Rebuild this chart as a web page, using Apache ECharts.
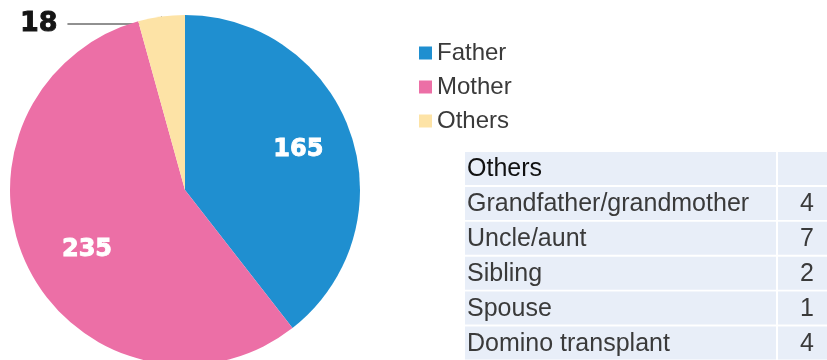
<!DOCTYPE html>
<html>
<head>
<meta charset="utf-8">
<script src="https://cdn.jsdelivr.net/npm/echarts@6/dist/echarts.min.js"></script>
<style>
  html, body { margin: 0; padding: 0; background: #fff; }
  #chart { width: 827px; height: 360px; }
</style>
</head>
<body>
<div id="chart"></div>
<script>
// Donor relationship breakdown
const donorGroups = ['Father', 'Mother', 'Others'];
const donorCounts = [165, 235, 18];
const groupColors = ['#1f8fd0', '#ec6fa6', '#fde3a6'];

// Breakdown of the "Others" group
const otherHeader = 'Others';
const otherLabels = ['Grandfather/grandmother', 'Uncle/aunt', 'Sibling', 'Spouse', 'Domino transplant'];
const otherCounts = [4, 7, 2, 1, 4];

const chart = echarts.init(document.getElementById('chart'), null, { renderer: 'canvas' });

const pieCenter = [185, 190];
const pieRadius = 175;

// where the inner value labels sit: fraction of the radius, plus a small angular nudge (deg)
const innerLabelPlace = [
  { rFrac: 0.69, nudge: -1.3 },
  { rFrac: 0.65, nudge: -3.8 }
];

// midpoint angle (deg, clockwise from 12 o'clock) of slice i
function midAngle(i) {
  const total = donorCounts.reduce((a, b) => a + b, 0);
  let before = 0;
  for (let k = 0; k < i; k++) before += donorCounts[k];
  return (before + donorCounts[i] / 2) / total * 360;
}

// table layout
const tbl = { left: 465, top: 152, colSplit: 776, right: 832, rowPitch: 34.9, rowH: 33, gap: 2 };
const tableFont = '"Liberation Sans", Arial, sans-serif';
const tableItems = [];
const rows = [[otherHeader, '']].concat(otherLabels.map((l, i) => [l, String(otherCounts[i])]));
rows.forEach((row, i) => {
  const y = tbl.top + i * tbl.rowPitch;
  tableItems.push({
    type: 'rect', silent: true,
    shape: { x: tbl.left, y: y, width: tbl.colSplit - tbl.left, height: tbl.rowH },
    style: { fill: '#e8eef8' }
  });
  tableItems.push({
    type: 'rect', silent: true,
    shape: { x: tbl.colSplit + tbl.gap, y: y, width: tbl.right - tbl.colSplit - tbl.gap, height: tbl.rowH },
    style: { fill: '#e8eef8' }
  });
  tableItems.push({
    type: 'text', silent: true,
    style: {
      x: tbl.left + 2, y: y + tbl.rowH / 2 + 1, text: row[0],
      font: '400 25px ' + tableFont,
      fill: i === 0 ? '#111' : '#3a3a3a', verticalAlign: 'middle', align: 'left'
    }
  });
  if (row[1] !== '') {
    tableItems.push({
      type: 'text', silent: true,
      style: {
        x: 814, y: y + tbl.rowH / 2 + 1, text: row[1],
        font: '400 25px ' + tableFont,
        fill: '#3a3a3a', verticalAlign: 'middle', align: 'right'
      }
    });
  }
});

const option = {
  animation: false,
  color: groupColors,
  legend: {
    orient: 'vertical',
    left: 414,
    top: 34,
    icon: 'rect',
    itemWidth: 13,
    itemHeight: 13,
    itemGap: 6,
    selectedMode: false,
    textStyle: {
      fontFamily: '"Liberation Sans", Arial, sans-serif',
      fontSize: 24,
      lineHeight: 28,
      color: '#3a3a3a'
    },
    data: donorGroups
  },
  graphic: tableItems,
  series: [{
    type: 'pie',
    center: pieCenter,
    radius: pieRadius,
    startAngle: 90,
    clockwise: true,
    silent: true,
    itemStyle: { borderWidth: 0 },
    label: {
      show: true,
      position: 'inside',
      formatter: '{c}',
      color: '#fff',
      textBorderColor: '#fff',
      textBorderWidth: 0.9,
      fontFamily: '"DejaVu Sans", sans-serif',
      fontWeight: 'bold',
      fontSize: 24
    },
    labelLine: { show: false },
    labelLayout: function (p) {
      if (p.dataIndex === 2) {
        // value of the small slice sits off to the left, on a long leader line
        return { x: 67, y: 24, align: 'right', verticalAlign: 'middle' };
      }
      const place = innerLabelPlace[p.dataIndex];
      const a = (midAngle(p.dataIndex) + place.nudge) * Math.PI / 180;
      const r = pieRadius * place.rFrac;
      return {
        x: pieCenter[0] + r * Math.sin(a),
        y: pieCenter[1] - r * Math.cos(a) + 2,
        align: 'center',
        verticalAlign: 'middle'
      };
    },
    data: donorGroups.map((name, i) => {
      const item = { name: name, value: donorCounts[i] };
      if (i === 2) {
        item.label = {
          position: 'outside',
          // trailing space keeps the leader line clear of the digits
          formatter: '{c} ',
          color: '#151515',
          textBorderColor: '#151515',
          textBorderWidth: 0.9,
          fontSize: 27
        };
        item.labelLine = {
          show: true,
          length: 0.001,
          length2: 90,
          smooth: false,
          lineStyle: { color: '#222', width: 1 }
        };
      }
      return item;
    })
  }]
};

chart.setOption(option);
</script>
</body>
</html>
